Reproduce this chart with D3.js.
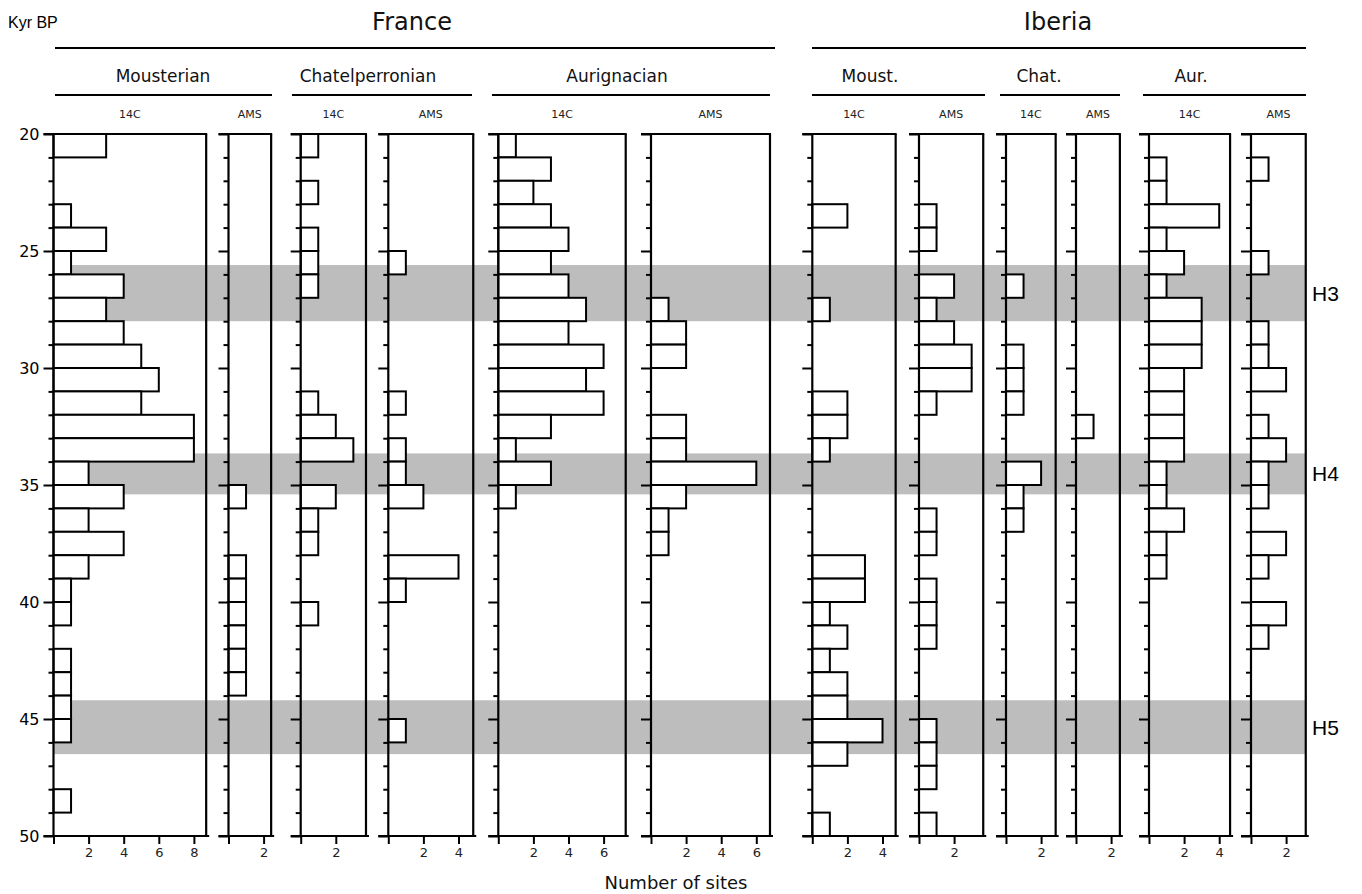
<!DOCTYPE html>
<html><head><meta charset="utf-8">
<script src="https://cdn.jsdelivr.net/npm/d3@7"></script>
<style>body{margin:0;background:#fff}svg{display:block}</style>
</head><body>
<script>
// ---- DATA ----
const binStarts = d3.range(20, 50);           // 1-kyr bins, 20–49 kyr BP
const yTickLabels = [20, 25, 30, 35, 40, 45, 50];
const regions = ["France", "Iberia"];
const industries = ["Mousterian", "Chatelperronian", "Aurignacian", "Moust.", "Chat.", "Aur."];
const methods = ["14C", "AMS"];
const events = ["H3", "H4", "H5"];
const eventStart = [25.6, 33.65, 44.2];
const eventEnd = [28.0, 35.4, 46.5];

// counts per bin (index 0 = 20–21 kyr)
const franceMoust14C = [3,0,0,1,3,1,4,3,4,5,6,5,8,8,2,4,2,4,2,1,1,0,1,1,1,1,0,0,1,0];
const franceMoustAMS = [0,0,0,0,0,0,0,0,0,0,0,0,0,0,0,1,0,0,1,1,1,1,1,1,0,0,0,0,0,0];
const franceChat14C  = [1,0,1,0,1,1,1,0,0,0,0,1,2,3,0,2,1,1,0,0,1,0,0,0,0,0,0,0,0,0];
const franceChatAMS  = [0,0,0,0,0,1,0,0,0,0,0,1,0,1,1,2,0,0,4,1,0,0,0,0,0,1,0,0,0,0];
const franceAur14C   = [1,3,2,3,4,3,4,5,4,6,5,6,3,1,3,1,0,0,0,0,0,0,0,0,0,0,0,0,0,0];
const franceAurAMS   = [0,0,0,0,0,0,0,1,2,2,0,0,2,2,6,2,1,1,0,0,0,0,0,0,0,0,0,0,0,0];
const iberiaMoust14C = [0,0,0,2,0,0,0,1,0,0,0,2,2,1,0,0,0,0,3,3,1,2,1,2,2,4,2,0,0,1];
const iberiaMoustAMS = [0,0,0,1,1,0,2,1,2,3,3,1,0,0,0,0,1,1,0,1,1,1,0,0,0,1,1,1,0,1];
const iberiaChat14C  = [0,0,0,0,0,0,1,0,0,1,1,1,0,0,2,1,1,0,0,0,0,0,0,0,0,0,0,0,0,0];
const iberiaChatAMS  = [0,0,0,0,0,0,0,0,0,0,0,0,1,0,0,0,0,0,0,0,0,0,0,0,0,0,0,0,0,0];
const iberiaAur14C   = [0,1,1,4,1,2,1,3,3,3,2,2,2,2,1,1,2,1,1,0,0,0,0,0,0,0,0,0,0,0];
const iberiaAurAMS   = [0,1,0,0,0,1,0,0,1,1,2,0,1,2,1,1,0,2,1,0,2,1,0,0,0,0,0,0,0,0];

// ---- LAYOUT ----
const W = 1362, H = 894;
const yTop = 134, yBot = 836;
const unitPx = 17.55;
const panels = [
  {data: franceMoust14C, method: 0, left: 53.5,  max: 8.7,  ticks: [2,4,6,8]},
  {data: franceMoustAMS, method: 1, left: 228.5, max: 2.43, ticks: [2]},
  {data: franceChat14C,  method: 0, left: 300.7, max: 3.72, ticks: [2]},
  {data: franceChatAMS,  method: 1, left: 388.3, max: 4.84, ticks: [2,4]},
  {data: franceAur14C,   method: 0, left: 498.3, max: 7.26, ticks: [2,4,6]},
  {data: franceAurAMS,   method: 1, left: 651,   max: 6.78, ticks: [2,4,6]},
  {data: iberiaMoust14C, method: 0, left: 812.3, max: 4.75, ticks: [2,4]},
  {data: iberiaMoustAMS, method: 1, left: 919,   max: 3.66, ticks: [2]},
  {data: iberiaChat14C,  method: 0, left: 1006,  max: 2.83, ticks: [2]},
  {data: iberiaChatAMS,  method: 1, left: 1076,  max: 2.5,  ticks: [2]},
  {data: iberiaAur14C,   method: 0, left: 1149,  max: 4.62, ticks: [2,4]},
  {data: iberiaAurAMS,   method: 1, left: 1251,  max: 3.12, ticks: [2]}
];
const groupLayout = [
  {label: 0, x1: 55,  x2: 272,  tx: 163},
  {label: 1, x1: 292, x2: 472,  tx: 368},
  {label: 2, x1: 492, x2: 770,  tx: 617},
  {label: 3, x1: 812, x2: 985,  tx: 870},
  {label: 4, x1: 1000,x2: 1120, tx: 1039},
  {label: 5, x1: 1143,x2: 1306, tx: 1191}
];
const regionLayout = [
  {label: 0, x1: 55,  x2: 775,  tx: 412},
  {label: 1, x1: 812, x2: 1306, tx: 1058}
];

const sans = "'DejaVu Sans', Verdana, sans-serif";
const helv = "'Liberation Sans', Arial, sans-serif";

const svg = d3.select("body").append("svg").attr("width", W).attr("height", H);
const y = d3.scaleLinear().domain([20, 50]).range([yTop, yBot]);

// shaded Heinrich events
const bandX1 = panels[0].left, bandX2 = panels[11].left + panels[11].max * unitPx;
svg.append("g").selectAll("rect").data(events).join("rect")
  .attr("x", bandX1).attr("width", bandX2 - bandX1)
  .attr("y", (d, i) => y(eventStart[i]))
  .attr("height", (d, i) => y(eventEnd[i]) - y(eventStart[i]))
  .attr("fill", "#bdbdbd");
svg.append("g").selectAll("text").data(events).join("text")
  .attr("x", 1312).attr("y", (d, i) => y((eventStart[i] + eventEnd[i]) / 2))
  .attr("dy", "0.36em").attr("font-family", helv).attr("font-size", 21)
  .text(d => d);

const yAxisTicks = d3.range(20, 51);

panels.forEach((p, pi) => {
  const x = d3.scaleLinear().domain([0, p.max]).range([p.left, p.left + p.max * unitPx]);
  const g = svg.append("g");
  const xr = x(p.max);

  // bars
  g.append("g").selectAll("rect")
    .data(binStarts.map((b, i) => ({b, v: p.data[i]})).filter(d => d.v > 0))
    .join("rect")
    .attr("x", x(0)).attr("y", d => y(d.b))
    .attr("width", d => x(d.v) - x(0)).attr("height", d => y(d.b + 1) - y(d.b))
    .attr("fill", "#fff").attr("stroke", "#000").attr("stroke-width", 2);

  // left axis
  const ya = d3.axisLeft(y).tickValues(yAxisTicks)
    .tickSize(0).tickFormat(d => (pi === 0 && yTickLabels.includes(d)) ? d : "");
  const ag = g.append("g").attr("transform", `translate(${x(0)},0)`).call(ya);
  ag.select(".domain").remove();
  ag.selectAll(".tick line")
    .attr("x2", d => d % 5 === 0 ? -10 : -5)
    .attr("stroke", "#000").attr("stroke-width", 2);
  ag.selectAll(".tick text").attr("x", -14).attr("font-family", sans).attr("font-size", 16).attr("fill", "#000");
  g.append("line").attr("x1", x(0)).attr("x2", x(0)).attr("y1", yTop - 1).attr("y2", yBot + 1)
    .attr("stroke", "#000").attr("stroke-width", 2.2);

  // bottom axis
  const xa = d3.axisBottom(x).tickValues([0].concat(p.ticks)).tickSize(8)
    .tickFormat(d => d === 0 ? "" : d);
  const bg = g.append("g").attr("transform", `translate(0,${yBot})`).call(xa);
  bg.select(".domain").remove();
  bg.selectAll(".tick line").attr("stroke", "#000").attr("stroke-width", 2);
  bg.selectAll(".tick text").attr("y", 12).attr("font-family", sans).attr("font-size", 13).attr("fill", "#222");
  g.append("line").attr("x1", x(0) - 10).attr("x2", xr + 3).attr("y1", yBot).attr("y2", yBot)
    .attr("stroke", "#000").attr("stroke-width", 2.2);

  // top & right frame
  g.append("line").attr("x1", x(0) - 10).attr("x2", xr + 1).attr("y1", yTop).attr("y2", yTop)
    .attr("stroke", "#000").attr("stroke-width", 2.2);
  g.append("line").attr("x1", xr).attr("x2", xr).attr("y1", yTop).attr("y2", yBot)
    .attr("stroke", "#000").attr("stroke-width", 2.2);

  // method label
  g.append("text").attr("x", (x(0) + xr) / 2).attr("y", 118).attr("text-anchor", "middle")
    .attr("font-family", sans).attr("font-size", 11).attr("fill", "#222").text(methods[p.method]);
});

// group headers
const gh = svg.append("g");
gh.selectAll("line").data(groupLayout).join("line")
  .attr("x1", d => d.x1).attr("x2", d => d.x2).attr("y1", 95).attr("y2", 95)
  .attr("stroke", "#000").attr("stroke-width", 2);
gh.selectAll("text").data(groupLayout).join("text")
  .attr("x", d => d.tx).attr("y", 82).attr("text-anchor", "middle")
  .attr("font-family", sans).attr("font-size", 17).attr("fill", "#111")
  .text(d => industries[d.label]);

const rh = svg.append("g");
rh.selectAll("line").data(regionLayout).join("line")
  .attr("x1", d => d.x1).attr("x2", d => d.x2).attr("y1", 48).attr("y2", 48)
  .attr("stroke", "#000").attr("stroke-width", 2);
rh.selectAll("text").data(regionLayout).join("text")
  .attr("x", d => d.tx).attr("y", 30).attr("text-anchor", "middle")
  .attr("font-family", sans).attr("font-size", 24).attr("fill", "#111")
  .text(d => regions[d.label]);

svg.append("text").attr("x", 8).attr("y", 28).attr("font-family", helv).attr("font-size", 16)
  .text("Kyr BP");
svg.append("text").attr("x", 676).attr("y", 889).attr("text-anchor", "middle")
  .attr("font-family", sans).attr("font-size", 18).attr("fill", "#111").text("Number of sites");
</script>
</body></html>
